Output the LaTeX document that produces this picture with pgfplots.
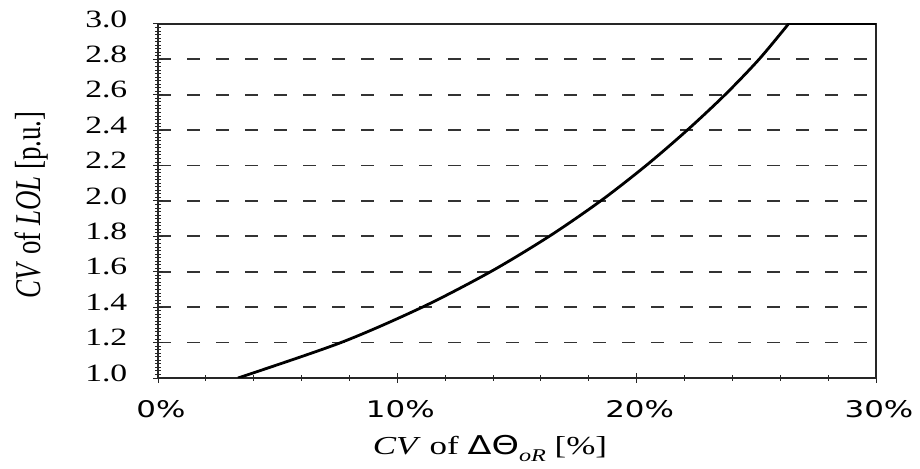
\documentclass[border=0pt]{standalone}
\usepackage{fontspec}
\setmainfont{Liberation Serif}
\newfontfamily\dejavu{DejaVu Sans}
\usepackage{graphicx}
\usepackage{pgfplots}
\pgfplotsset{compat=1.18}
\pgfplotstableread{
x y
3.34 1.00
7.64 1.20
11.04 1.40
13.89 1.60
16.34 1.80
18.49 2.00
20.39 2.20
22.11 2.40
23.69 2.60
25.11 2.80
26.34 3.00
}\curvedata
\begin{document}
\begin{tikzpicture}
\useasboundingbox (-158bp,-91bp) rectangle (762bp,378bp);
\begin{axis}[
  at={(0,0)}, anchor=south west,
  scale only axis, width=718bp, height=354bp,
  xmin=0, xmax=30, ymin=1, ymax=3,
  xtick={0,10,20,30},
  ytick={1.0,1.2,1.4,1.6,1.8,2.0,2.2,2.4,2.6,2.8,3.0},
  minor x tick num=4, minor y tick num=9,
  xtick pos=bottom, ytick pos=left,
  tick align=center,
  major tick length=9bp, minor tick length=5bp,
  axis line style={line width=1.4bp, black!85},
  every tick/.style={line width=1bp, black!85},
  ymajorgrids,
  major grid style={dash pattern=on 13bp off 16bp, line width=1.8bp, black!80},
  /pgf/number format/assume math mode=true,
  yticklabel={\scalebox{1.35}[1]{\pgfmathprintnumber[fixed,fixed zerofill,precision=1]{\tick}}},
  yticklabel style={font=\fontsize{25}{25}\selectfont, anchor=east, inner sep=0pt, xshift=-26bp, yshift=5bp, text=black},
  xticklabel={\scalebox{1.35}[1]{\dejavu\pgfmathprintnumber{\tick}\%}},
  xticklabel style={font=\fontsize{23}{23}\selectfont, anchor=north, inner sep=0pt, yshift=-18bp, xshift=3bp, text=black},
]
\addplot[black, line width=2.8bp, smooth, tension=0.5] table[x=x,y=y] {\curvedata};
\addplot[black, line width=2.6bp] coordinates {(26.34,3.0) (30,3.0)};
\end{axis}
\node[anchor=base, inner sep=0pt, text=black] at (332bp,-76bp)
  {\scalebox{1.35}[1]{\fontsize{26}{26}\selectfont\textit{CV} of {\dejavu ΔΘ}\raisebox{-0.3em}{\fontsize{18}{18}\selectfont\textit{oR}} [\%]}};
\node[rotate=90, inner sep=0pt, text=black] at (-126bp,173bp)
  {\scalebox{1}[1.35]{\fontsize{27}{27}\selectfont\textit{CV} of \textit{LOL} [p.u.]}};
\end{tikzpicture}
\end{document}
